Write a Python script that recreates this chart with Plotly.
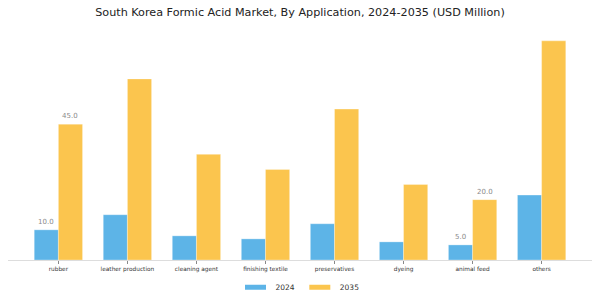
import plotly.graph_objects as go

categories = ["rubber", "leather production", "cleaning agent", "finishing textile",
              "preservatives", "dyeing", "animal feed", "others"]
values_2024 = [10.0, 15.0, 8.0, 7.0, 12.0, 6.0, 5.0, 21.5]
values_2035 = [45.0, 60.0, 35.0, 30.0, 50.0, 25.0, 20.0, 72.6]
labels_2024 = ["10.0", "", "", "", "", "", "5.0", ""]
labels_2035 = ["45.0", "", "", "", "", "", "20.0", ""]
series_names = ["2024", "2035"]

BLUE = "#5DB4E7"
YELLOW = "#FBC54E"
FONT = "DejaVu Sans"
BAR_W = 0.35

fig = go.Figure()
xs = list(range(len(categories)))
for vals, labels, color, off in [(values_2024, labels_2024, BLUE, -BAR_W),
                                 (values_2035, labels_2035, YELLOW, 0.0)]:
    fig.add_trace(go.Bar(
        x=xs, y=vals, showlegend=False,
        marker=dict(color=color, line=dict(color="rgba(255,255,255,0.6)", width=0.5)),
        width=BAR_W, offset=off,
    ))
    for xi, v, lab in zip(xs, vals, labels):
        if lab:
            fig.add_annotation(x=xi + off + BAR_W / 2, y=v, text=lab, showarrow=False,
                               yshift=8, xanchor="center", yanchor="middle",
                               font=dict(color="#8a8a8a", size=7, family=FONT))

# legend entries (wide thin swatches)
for name, color in zip(series_names, [BLUE, YELLOW]):
    fig.add_trace(go.Scatter(
        x=[None], y=[None], mode="markers", name=name,
        marker=dict(symbol="line-ew", size=15, color=color,
                    line=dict(color=color, width=5)),
    ))

fig.update_layout(
    width=600, height=300,
    margin=dict(l=8, r=8, t=30, b=40, autoexpand=False),
    paper_bgcolor="white", plot_bgcolor="white",
    font=dict(family=FONT, color="#333333"),
    title=dict(text="South Korea Formic Acid Market, By Application, 2024-2035 (USD Million)",
               x=0.5, xanchor="center", y=0.96, yanchor="middle",
               font=dict(size=11.2, color="#222222", family=FONT)),
    barmode="overlay",
    showlegend=True,
    legend=dict(orientation="h", x=0.5, xanchor="center", y=-0.118, yanchor="middle",
                font=dict(size=7.5, color="#333333", family=FONT),
                itemwidth=30, tracegroupgap=0),
)
fig.update_xaxes(
    tickmode="array", tickvals=xs, ticktext=categories,
    range=[-0.73, 7.73], showgrid=False, zeroline=False,
    showline=True, linecolor="#dddddd", linewidth=1,
    ticks="outside", ticklen=3, tickcolor="#888888", tickwidth=1,
    tickfont=dict(size=5.8, color="#333333", family=FONT),
)
fig.update_yaxes(range=[0, 76.2], visible=False, showgrid=False, zeroline=False)

fig.write_html("out.html")
